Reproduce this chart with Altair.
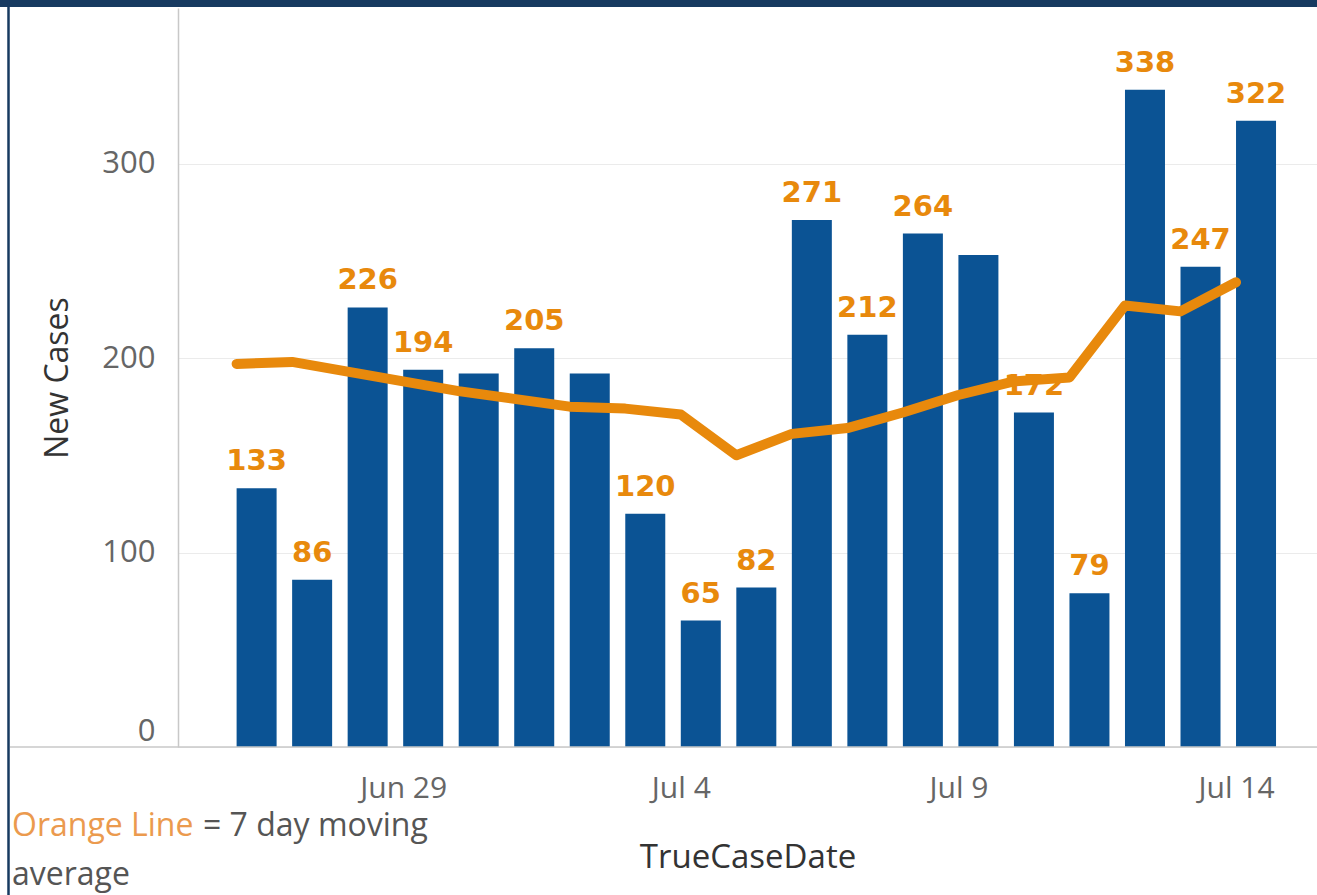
import altair as alt
import pandas as pd

# ---- data ----
dates = ["2020-06-26", "2020-06-27", "2020-06-28", "2020-06-29", "2020-06-30",
         "2020-07-01", "2020-07-02", "2020-07-03", "2020-07-04", "2020-07-05",
         "2020-07-06", "2020-07-07", "2020-07-08", "2020-07-09", "2020-07-10",
         "2020-07-11", "2020-07-12", "2020-07-13", "2020-07-14"]
new_cases = [133, 86, 226, 194, 192, 205, 192, 120, 65, 82,
             271, 212, 264, 253, 172, 79, 338, 247, 322]
moving_avg = [197, 198, 193, 188, 183, 179, 175, 174, 171, 150,
              161, 164, 172, 181, 188, 190, 227, 224, 239]
show_label = [True, True, True, True, False, True, False, True, True, True,
              True, True, True, False, True, True, True, True, True]
tick_dates = ["2020-06-29", "2020-07-04", "2020-07-09", "2020-07-14"]
y_ticks = [0, 100, 200, 300]

BLUE = "#0B5394"
ORANGE = "#E8890C"
NAVY = "#173A60"

df = pd.DataFrame({
    "TrueCaseDate": [d + "T00:00:00Z" for d in dates],
    "New Cases": new_cases,
    "MA": moving_avg,
    "show": show_label,
})

W, H = 1139, 739
LEFT, TOP = 178, 8

x_enc = alt.X(
    "TrueCaseDate:T",
    title="TrueCaseDate",
    scale=alt.Scale(type="utc",
                    domain=[alt.DateTime(year=2020, month=6, date=24, hours=22, minutes=40, utc=True),
                            alt.DateTime(year=2020, month=7, date=15, hours=11, utc=True)],
                    nice=False, padding=0),
    axis=alt.Axis(
        values=[alt.DateTime(year=int(t[:4]), month=int(t[5:7]), date=int(t[8:]), utc=True) for t in tick_dates],
        labelExpr="utcFormat(datum.value, '%b %-d')",
        domain=False, ticks=False, grid=False,
        labelFont="Open Sans", labelFontSize=30, labelColor="#666666",
        labelPadding=26, labelBaseline="top",
        titleFont="Open Sans", titleFontSize=33, titleColor="#333333",
        titleFontWeight="normal", titlePadding=38,
    ),
)

y_enc = alt.Y(
    "New Cases:Q",
    title="New Cases",
    scale=alt.Scale(domain=[0, 380], nice=False, padding=0),
    axis=alt.Axis(
        values=y_ticks,
        domain=True, domainColor="#C8C8C8", domainWidth=1.5,
        ticks=False, grid=True, gridColor="#EBEBEB", gridWidth=1,
        labelFont="Open Sans", labelFontSize=31, labelColor="#666666",
        labelPadding=23, labelFlush=True,
        titleFont="Open Sans", titleFontSize=32, titleColor="#333333",
        titleFontWeight="normal", titlePadding=27,
    ),
)

base = alt.Chart(df)

bars = base.mark_bar(color=BLUE, size=40, xOffset=20).encode(x=x_enc, y=y_enc)

labels = base.transform_filter("datum.show").mark_text(
    font="DejaVu Sans", fontWeight="bold", fontSize=29, color=ORANGE,
    baseline="alphabetic", align="center", dx=20, dy=-18,
).encode(x="TrueCaseDate:T", y="New Cases:Q", text="New Cases:Q")

line = base.mark_line(color=ORANGE, strokeWidth=10, strokeCap="round",
                      strokeJoin="round").encode(x="TrueCaseDate:T", y="MA:Q")

# decorations: x-axis baseline extending under the y labels, frame lines
axis_line = alt.Chart(pd.DataFrame({"k": [0]})).mark_rule(color="#C8C8C8", strokeWidth=1.5).encode(
    x=alt.value(10 - LEFT), x2=alt.value(W), y=alt.value(H))
top_band = alt.Chart(pd.DataFrame({"k": [0]})).mark_rule(color=NAVY, strokeWidth=7).encode(
    x=alt.value(-LEFT), x2=alt.value(W), y=alt.value(3.5 - TOP))
left_band = alt.Chart(pd.DataFrame({"k": [0]})).mark_rule(color=NAVY, strokeWidth=2.5).encode(
    x=alt.value(8.5 - LEFT), y=alt.value(-TOP), y2=alt.value(895 - TOP))

note1 = alt.Chart(pd.DataFrame({"t": ["Orange Line"]})).mark_text(
    font="Open Sans", fontSize=32, color="#EB9A4E", align="left", baseline="alphabetic").encode(
    x=alt.value(12 - LEFT), y=alt.value(836 - TOP), text="t:N")
note2 = alt.Chart(pd.DataFrame({"t": ["= 7 day moving"]})).mark_text(
    font="Open Sans", fontSize=32, color="#555555", align="left", baseline="alphabetic").encode(
    x=alt.value(203 - LEFT), y=alt.value(836 - TOP), text="t:N")
note3 = alt.Chart(pd.DataFrame({"t": ["average"]})).mark_text(
    font="Open Sans", fontSize=32, color="#555555", align="left", baseline="alphabetic").encode(
    x=alt.value(12 - LEFT), y=alt.value(885 - TOP), text="t:N")

chart = alt.layer(bars, labels, line, axis_line, top_band, left_band, note1, note2, note3).properties(
    width=W, height=H,
    autosize=alt.AutoSizeParams(type="none"),
    padding={"left": LEFT, "top": TOP, "right": 0, "bottom": 895 - TOP - H},
    background="white",
).configure_view(stroke=None)

chart.save("out.html", embed_options={"renderer": "svg", "actions": False})
